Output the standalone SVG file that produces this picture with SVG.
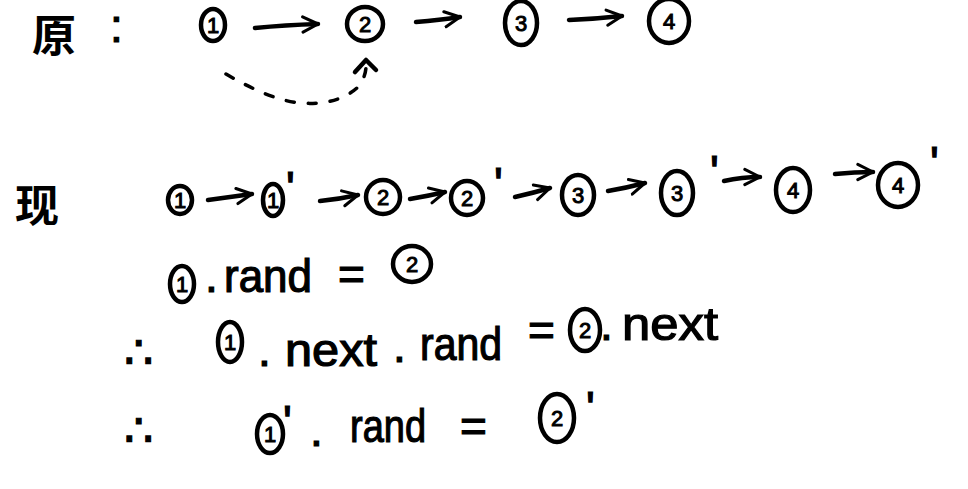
<svg xmlns="http://www.w3.org/2000/svg" width="968" height="489" viewBox="0 0 968 489">
<defs>
<style>
.c{fill:none;stroke:#000;stroke-width:4.5}
.n{font-family:"Liberation Sans","DejaVu Sans",sans-serif;font-size:22px;text-anchor:middle;fill:#000;stroke:#000;stroke-width:1}
.t{font-family:"Liberation Sans","DejaVu Sans",sans-serif;fill:#000;font-size:46px;stroke:#000;stroke-width:1.2}
.h{font-family:"Noto Sans CJK SC",sans-serif;fill:#000;font-size:44px;font-weight:bold}
.a{fill:none;stroke:#000;stroke-width:4.5;stroke-linecap:round;stroke-linejoin:round}
.d{fill:none;stroke:#000;stroke-width:3.5;stroke-linecap:round;stroke-dasharray:8 14}
</style>
<marker id="ah" viewBox="0 0 12 12" refX="10" refY="6" markerWidth="4.5" markerHeight="4.5" orient="auto" markerUnits="strokeWidth">
<path d="M1,1.5 L10,6 L1,10.5" fill="none" stroke="#000" stroke-width="1.8" stroke-linecap="round" stroke-linejoin="round"/>
</marker>
</defs>
<rect width="968" height="489" fill="#fff"/>

<g id="label-yuan"><text class="h" x="32" y="52">原</text><text class="t" x="110" y="42" font-size="36">:</text></g>
<g id="r1n1"><ellipse class="c" cx="213" cy="25" rx="12" ry="16"/><text class="n" x="213" y="33">1</text></g>
<g id="r1n2"><ellipse class="c" cx="365" cy="24" rx="18" ry="17"/><text class="n" x="365" y="32">2</text></g>
<g id="r1n3"><ellipse class="c" cx="521" cy="23" rx="16" ry="22"/><text class="n" x="521" y="31">3</text></g>
<g id="r1n4"><ellipse class="c" cx="669" cy="21" rx="20" ry="22"/><text class="n" x="669" y="29">4</text></g>

<g id="label-xian"><text class="h" x="15" y="222">现</text></g>
<g id="r2n1"><ellipse class="c" cx="180" cy="200" rx="12" ry="14"/><text class="n" x="180" y="208">1</text></g>
<g id="r2n1p"><ellipse class="c" cx="273" cy="200" rx="10" ry="16"/><text class="n" x="273" y="208">1</text><text class="t" x="286" y="204" font-size="30">'</text></g>
<g id="r2n2"><ellipse class="c" cx="383" cy="197" rx="17" ry="17"/><text class="n" x="383" y="205">2</text></g>
<g id="r2n2p"><ellipse class="c" cx="467" cy="198" rx="16" ry="17"/><text class="n" x="467" y="206">2</text><text class="t" x="494" y="200" font-size="30">'</text></g>
<g id="r2n3"><ellipse class="c" cx="578" cy="195" rx="16" ry="20"/><text class="n" x="578" y="203">3</text></g>
<g id="r2n3p"><ellipse class="c" cx="677" cy="193" rx="16" ry="22"/><text class="n" x="677" y="201">3</text><text class="t" x="710" y="188" font-size="30">'</text></g>
<g id="r2n4"><ellipse class="c" cx="793" cy="190" rx="17" ry="22"/><text class="n" x="793" y="198">4</text></g>
<g id="r2n4p"><ellipse class="c" cx="898" cy="185" rx="20" ry="22"/><text class="n" x="898" y="193">4</text><text class="t" x="930" y="179" font-size="30">'</text></g>

<g id="eq1">
<ellipse class="c" cx="182" cy="284" rx="12" ry="18"/><text class="n" x="182" y="292">1</text>
<text class="t" x="205" y="292">.</text>
<text class="t" x="224" y="292" textLength="88" lengthAdjust="spacingAndGlyphs">rand</text>
<text class="t" x="338" y="290">=</text>
<ellipse class="c" cx="412" cy="264" rx="19" ry="18"/><text class="n" x="412" y="272">2</text>
</g>
<g id="eq2">
<text class="t" x="124" y="368" font-size="34">∴</text>
<ellipse class="c" cx="230" cy="342" rx="12" ry="20"/><text class="n" x="230" y="350">1</text>
<text class="t" x="258" y="366">.</text>
<text class="t" x="285" y="366" textLength="92" lengthAdjust="spacingAndGlyphs">next</text>
<text class="t" x="393" y="362">.</text>
<text class="t" x="420" y="360" textLength="82" lengthAdjust="spacingAndGlyphs">rand</text>
<text class="t" x="528" y="346">=</text>
<ellipse class="c" cx="585" cy="330" rx="15" ry="21"/><text class="n" x="585" y="338">2</text>
<text class="t" x="600" y="340">.</text>
<text class="t" x="622" y="340" textLength="96" lengthAdjust="spacingAndGlyphs">next</text>
</g>
<g id="eq3">
<text class="t" x="124" y="446" font-size="34">∴</text>
<ellipse class="c" cx="270" cy="434" rx="13" ry="19"/><text class="n" x="270" y="442">1</text>
<text class="t" x="283" y="438" font-size="30">'</text>
<text class="t" x="310" y="446">.</text>
<text class="t" x="350" y="442" textLength="76" lengthAdjust="spacingAndGlyphs">rand</text>
<text class="t" x="460" y="442">=</text>
<ellipse class="c" cx="557" cy="418" rx="17" ry="24"/><text class="n" x="557" y="426">2</text>
<text class="t" x="586" y="424" font-size="30">'</text>
</g>

<g id="connectors">
<path class="a" d="M255,28 Q285,25 318,24" marker-end="url(#ah)"/>
<path class="a" d="M416,22 Q440,20 460,17" marker-end="url(#ah)"/>
<path class="a" d="M569,20 Q595,19 622,16" marker-end="url(#ah)"/>
<path class="d" d="M226,74 Q270,100 300,103 Q340,106 360,85 Q366,75 366,66"/>
<path class="a" d="M355,72 L366,60 L376,70"/>
<path class="a" d="M208,200 Q230,197 252,194" marker-end="url(#ah)"/>
<path class="a" d="M320,201 Q340,199 358,195" marker-end="url(#ah)"/>
<path class="a" d="M410,199 Q428,196 445,192" marker-end="url(#ah)"/>
<path class="a" d="M515,197 Q533,193 550,188" marker-end="url(#ah)"/>
<path class="a" d="M608,191 Q626,188 645,183" marker-end="url(#ah)"/>
<path class="a" d="M724,181 Q742,177 760,177" marker-end="url(#ah)"/>
<path class="a" d="M835,174 Q855,172 873,172" marker-end="url(#ah)"/>
</g>
</svg>
